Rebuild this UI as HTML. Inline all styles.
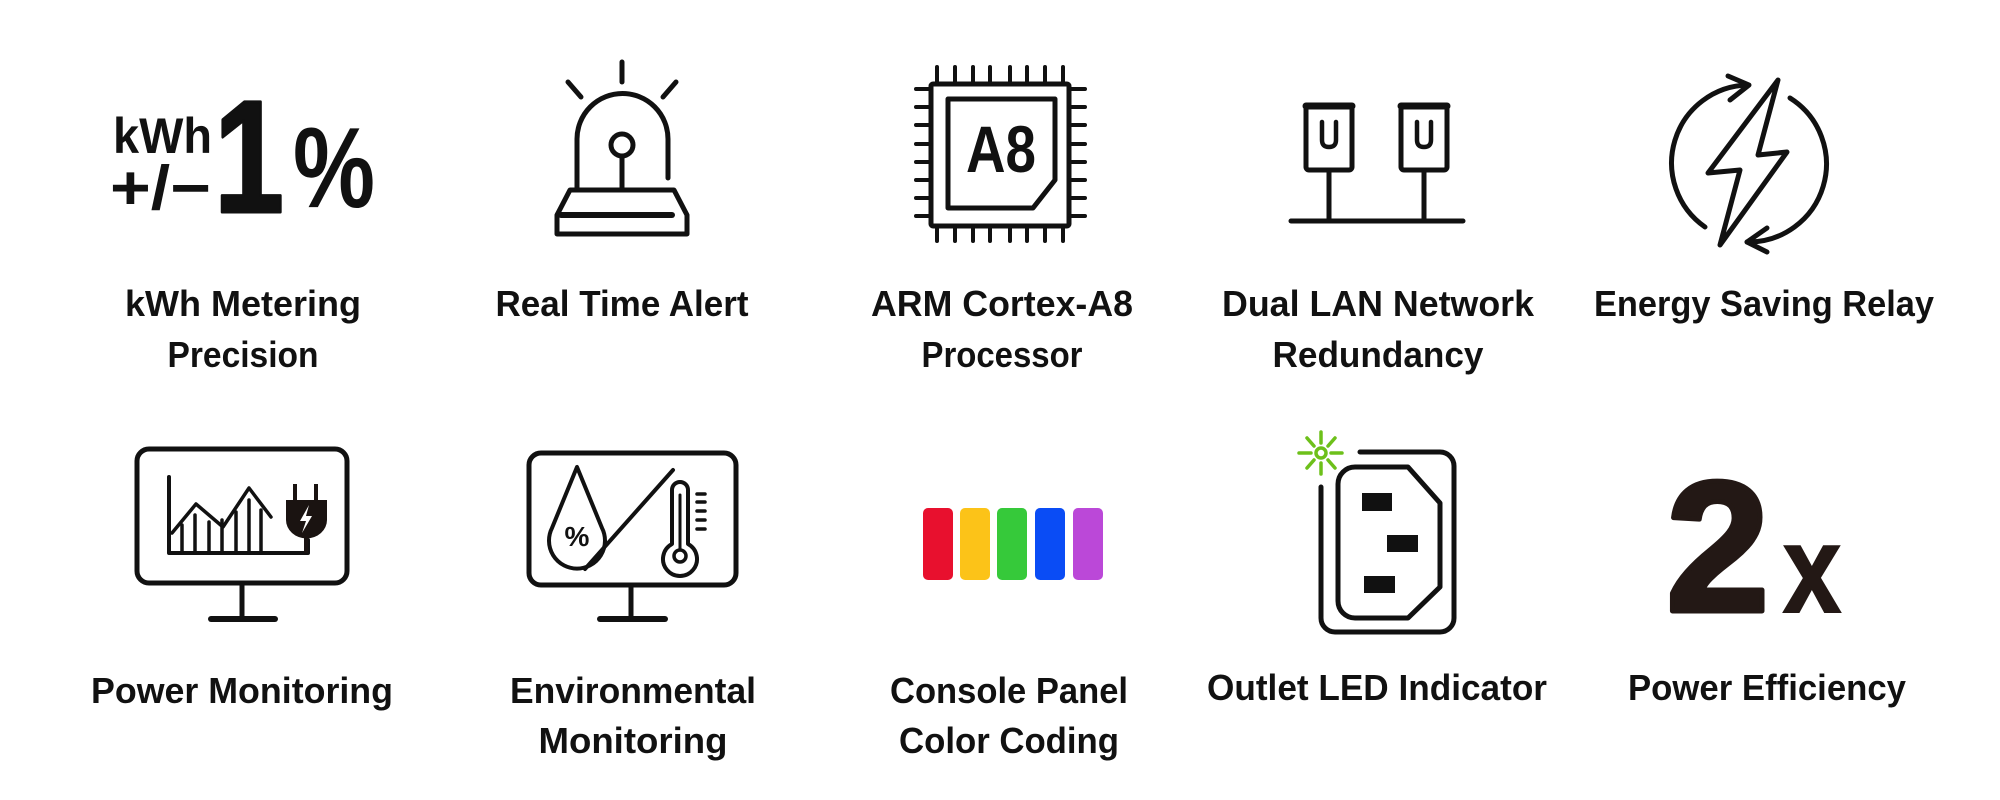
<!DOCTYPE html>
<html><head><meta charset="utf-8"><style>
html,body{margin:0;padding:0;background:#fff;}
svg{display:block;}
.l{font-family:"Liberation Sans",sans-serif;font-weight:bold;font-size:36px;fill:#111;}
</style></head><body>
<svg width="2000" height="800" viewBox="0 0 2000 800" xmlns="http://www.w3.org/2000/svg">
<rect width="2000" height="800" fill="#fff"/>
<g fill="none" stroke="#111" stroke-width="5" stroke-linecap="round" stroke-linejoin="round">
<!-- Alarm -->
<line x1="622" y1="62" x2="622" y2="82"/>
<line x1="568" y1="82" x2="581" y2="97"/>
<line x1="676" y1="82" x2="663" y2="97"/>
<path d="M577 190 V139 A45.5 45.5 0 0 1 668 139 V178"/>
<circle cx="622" cy="145" r="11"/>
<line x1="622" y1="156" x2="622" y2="190"/>
<path d="M570 190 H674 L687 215 V234 H557 V215 Z"/>
<line x1="561" y1="215" x2="672" y2="215" stroke-width="6"/>
<!-- Chip -->
<rect x="931" y="84" width="138" height="142" rx="2"/>
<path d="M948 99 H1055 V180 L1033 208 H948 Z"/>
<g stroke-width="4">
<path d="M937 67V83M955 67V83M973 67V83M990 67V83M1010 67V83M1027 67V83M1045 67V83M1063 67V83"/>
<path d="M937 227V241M955 227V241M973 227V241M990 227V241M1010 227V241M1027 227V241M1045 227V241M1063 227V241"/>
<path d="M916 89H930M916 107H930M916 125H930M916 144H930M916 162H930M916 180H930M916 198H930M916 216H930"/>
<path d="M1070 89H1085M1070 107H1085M1070 125H1085M1070 144H1085M1070 162H1085M1070 180H1085M1070 198H1085M1070 216H1085"/>
</g>
<!-- LAN -->
<rect x="1306" y="106" width="46" height="64" rx="3"/>
<rect x="1401" y="106" width="46" height="64" rx="3"/>
<line x1="1306" y1="106" x2="1352" y2="106" stroke-width="7"/>
<line x1="1401" y1="106" x2="1447" y2="106" stroke-width="7"/>
<line x1="1329" y1="170" x2="1329" y2="220"/>
<line x1="1424" y1="170" x2="1424" y2="220"/>
<line x1="1291" y1="221" x2="1463" y2="221" stroke-width="5"/>
<path d="M1322 122 V140 Q1322 147 1329 147 Q1336 147 1336 140 V122" stroke-width="4.5"/>
<path d="M1417 122 V140 Q1417 147 1424 147 Q1431 147 1431 140 V122" stroke-width="4.5"/>
<!-- Energy -->
<path d="M1705 227 A78 78 0 0 1 1748 85"/>
<path d="M1728 76 L1749 85 L1730 100"/>
<path d="M1790 98 A78 78 0 0 1 1747 242"/>
<path d="M1767 228 L1747 242 L1767 252"/>
<path d="M1778 80 L1708 173 L1740 170 L1720 245 L1787 152 L1758 155 Z"/>
<!-- Power monitor -->
<rect x="137" y="449" width="210" height="134" rx="12"/>
<line x1="242" y1="584" x2="242" y2="617"/>
<line x1="211" y1="619" x2="275" y2="619" stroke-width="6"/>
<path d="M169 477 V553 H308 V540" stroke-width="4"/>
<path d="M172 533 L196 504 L223 527 L249 488 L271 517" stroke-width="3.5"/>
<path d="M182 553V525M195 553V515M209 553V522M222 553V520M236 553V512M249 553V500M261 553V510" stroke-width="3.5"/>
<!-- Env monitor -->
<rect x="529" y="453" width="207" height="132" rx="12"/>
<line x1="631" y1="586" x2="631" y2="617"/>
<line x1="600" y1="619" x2="665" y2="619" stroke-width="6"/>
<path d="M577 467 L552 528 A28 28 0 1 0 602 528 Z" stroke-width="4"/>
<line x1="673" y1="470" x2="585" y2="569" stroke-width="4"/>
<path d="M672 544 V490 A8 8 0 0 1 688 490 V544 A17 17 0 1 1 672 544 Z" stroke-width="4"/>
<circle cx="680" cy="556" r="6" stroke-width="3.5"/>
<line x1="680" y1="495" x2="680" y2="549" stroke-width="3"/>
<path d="M697 494H705M697 502H705M697 511H705M697 520H705M697 529H705" stroke-width="3.5"/>
<!-- Outlet -->
<path d="M1360 452 H1440 A14 14 0 0 1 1454 466 V618 A14 14 0 0 1 1440 632 H1335 A14 14 0 0 1 1321 618 V487"/>
<path d="M1355 467 H1408 L1440 503 V587 L1408 618 H1355 A17 17 0 0 1 1338 601 V484 A17 17 0 0 1 1355 467 Z"/>
</g>
<!-- Power monitor plug -->
<g fill="#1a1311">
<rect x="293" y="484" width="4" height="18"/><rect x="314" y="484" width="4" height="18"/>
<path d="M286 500 H327 V520 A20 18 0 0 1 286 520 Z"/>
<rect x="304" y="535" width="4" height="18"/>
</g>
<path d="M309 505 L300 521 H306 L302 533 L312 516 H306 Z" fill="#fff"/>
<!-- drop percent -->
<text x="577" y="546" font-family="Liberation Sans,sans-serif" font-weight="bold" font-size="28" text-anchor="middle" fill="#111">%</text>
<!-- Outlet pins -->
<g fill="#111">
<rect x="1362" y="493" width="30" height="18"/>
<rect x="1387" y="535" width="31" height="17"/>
<rect x="1364" y="576" width="31" height="17"/>
</g>
<!-- LED -->
<g stroke="#6dc01a" stroke-width="3.5" fill="none" stroke-linecap="round">
<circle cx="1321" cy="453" r="5"/>
<path d="M1321 443V432M1321 463V474M1311 453H1299M1331 453H1342M1314 446L1307 438M1328 446L1335 438M1314 460L1307 468M1328 460L1335 468"/>
</g>
<!-- Color bars -->
<rect x="923" y="508" width="30" height="72" rx="5" fill="#e8102e"/>
<rect x="960" y="508" width="30" height="72" rx="5" fill="#fcc318"/>
<rect x="997" y="508" width="30" height="72" rx="5" fill="#36c93a"/>
<rect x="1035" y="508" width="30" height="72" rx="5" fill="#0a4cf5"/>
<rect x="1073" y="508" width="30" height="72" rx="5" fill="#bb48d8"/>
<!-- big texts -->
<g font-family="Liberation Sans,sans-serif" font-weight="bold" fill="#111">
<text x="113" y="153" font-size="50" textLength="99" lengthAdjust="spacingAndGlyphs">kWh</text>
<text x="110" y="209" font-size="62" textLength="101" lengthAdjust="spacingAndGlyphs">+/−</text>
<text x="214" y="212" font-size="160" stroke="#111" stroke-width="3" stroke-linejoin="round" textLength="70" lengthAdjust="spacingAndGlyphs">1</text>
<text x="293" y="207" font-size="114" textLength="82" lengthAdjust="spacingAndGlyphs">%</text>
<text x="1001" y="172" font-size="66" text-anchor="middle" textLength="70" lengthAdjust="spacingAndGlyphs">A8</text>
<text x="1666" y="611" font-size="186" fill="#231815" stroke="#231815" stroke-width="5" stroke-linejoin="round">2</text>
<text x="1783" y="612" font-size="124" fill="#231815" stroke="#231815" stroke-width="2" textLength="58" lengthAdjust="spacingAndGlyphs">x</text>
</g>
<!-- labels -->
<g class="l" text-anchor="middle">
<text class="l" x="243" y="316" textLength="236" lengthAdjust="spacingAndGlyphs">kWh Metering</text>
<text class="l" x="243" y="367" textLength="151" lengthAdjust="spacingAndGlyphs">Precision</text>
<text class="l" x="622" y="316" textLength="253" lengthAdjust="spacingAndGlyphs">Real Time Alert</text>
<text class="l" x="1002" y="316" textLength="262" lengthAdjust="spacingAndGlyphs">ARM Cortex-A8</text>
<text class="l" x="1002" y="367" textLength="161" lengthAdjust="spacingAndGlyphs">Processor</text>
<text class="l" x="1378" y="316" textLength="312" lengthAdjust="spacingAndGlyphs">Dual LAN Network</text>
<text class="l" x="1378" y="367" textLength="211" lengthAdjust="spacingAndGlyphs">Redundancy</text>
<text class="l" x="1764" y="316" textLength="340" lengthAdjust="spacingAndGlyphs">Energy Saving Relay</text>
<text class="l" x="242" y="703" textLength="302" lengthAdjust="spacingAndGlyphs">Power Monitoring</text>
<text class="l" x="633" y="703" textLength="246" lengthAdjust="spacingAndGlyphs">Environmental</text>
<text class="l" x="633" y="753" textLength="189" lengthAdjust="spacingAndGlyphs">Monitoring</text>
<text class="l" x="1009" y="703" textLength="238" lengthAdjust="spacingAndGlyphs">Console Panel</text>
<text class="l" x="1009" y="753" textLength="220" lengthAdjust="spacingAndGlyphs">Color Coding</text>
<text class="l" x="1377" y="700" textLength="340" lengthAdjust="spacingAndGlyphs">Outlet LED Indicator</text>
<text class="l" x="1767" y="700" textLength="278" lengthAdjust="spacingAndGlyphs">Power Efficiency</text>
</g>
</svg>
</body></html>
